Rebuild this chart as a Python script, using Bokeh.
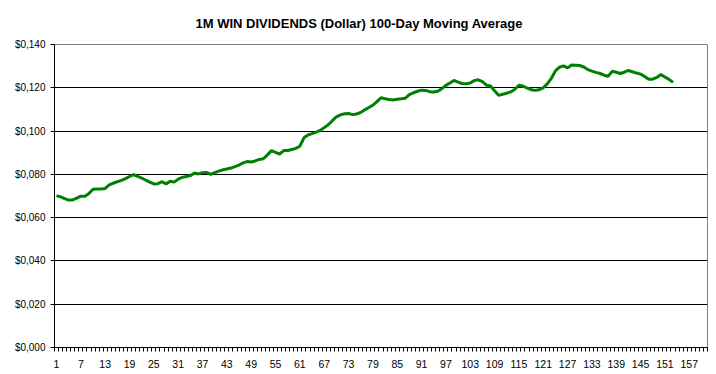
from bokeh.plotting import figure
from bokeh.models import FixedTicker, Range1d, ColumnDataSource
from bokeh.embed import file_html
from bokeh.resources import INLINE

title_text = "1M WIN DIVIDENDS (Dollar) 100-Day Moving Average"

days = list(range(1, 154))
moving_avg = [
    0.0702, 0.0696, 0.0688, 0.0681, 0.0682, 0.0690, 0.0699, 0.0699, 0.0712, 0.0731,
    0.0732, 0.0732, 0.0735, 0.0751, 0.0759, 0.0766, 0.0772, 0.0780, 0.0790, 0.0799,
    0.0791, 0.0783, 0.0773, 0.0764, 0.0756, 0.0757, 0.0766, 0.0756, 0.0768, 0.0764,
    0.0778, 0.0786, 0.0790, 0.0794, 0.0806, 0.0802, 0.0808, 0.0809, 0.0800, 0.0808,
    0.0815, 0.0821, 0.0825, 0.0829, 0.0836, 0.0843, 0.0853, 0.0859, 0.0857, 0.0862,
    0.0869, 0.0872, 0.0890, 0.0910, 0.0902, 0.0894, 0.0910, 0.0910, 0.0915, 0.0920,
    0.0930, 0.0969, 0.0982, 0.0988, 0.0995, 0.1003, 0.1016, 0.1029, 0.1048, 0.1066,
    0.1075, 0.1080, 0.1081, 0.1076, 0.1079, 0.1086, 0.1098, 0.1109, 0.1120, 0.1136,
    0.1154, 0.1149, 0.1146, 0.1144, 0.1147, 0.1149, 0.1152, 0.1168, 0.1177, 0.1184,
    0.1189, 0.1188, 0.1182, 0.1181, 0.1184, 0.1196, 0.1211, 0.1222, 0.1234, 0.1226,
    0.1220, 0.1219, 0.1222, 0.1233, 0.1237, 0.1228, 0.1212, 0.1208, 0.1186, 0.1165,
    0.1170, 0.1175, 0.1181, 0.1193, 0.1212, 0.1208, 0.1199, 0.1191, 0.1188, 0.1191,
    0.1200, 0.1218, 0.1244, 0.1278, 0.1295, 0.1301, 0.1292, 0.1305, 0.1304, 0.1303,
    0.1296, 0.1284, 0.1277, 0.1271, 0.1266, 0.1258, 0.1253, 0.1276, 0.1272, 0.1266,
    0.1272, 0.1280, 0.1274, 0.1268, 0.1263, 0.1252, 0.1239, 0.1240, 0.1248, 0.1261,
    0.1250, 0.1239, 0.1225,
]

n_categories = 161
x_tick_values = list(range(1, 158, 6))
x_tick_labels = [str(v) for v in x_tick_values]
y_tick_values = [0.0, 0.02, 0.04, 0.06, 0.08, 0.10, 0.12, 0.14]
y_tick_labels = ["$0,000", "$0,020", "$0,040", "$0,060", "$0,080", "$0,100", "$0,120", "$0,140"]

FONT = "Liberation Sans"

p = figure(
    width=716, height=374,
    output_backend="svg", toolbar_location=None,
    x_range=Range1d(0.5, n_categories + 0.5),
    y_range=Range1d(0.0, 0.14),
    min_border_left=54, min_border_right=9, min_border_top=44, min_border_bottom=27,
)

p.title.text = title_text
p.title.align = "left"
p.title.offset = 141
p.title.standoff = 27
p.title.text_font = FONT
p.title.text_font_size = "13px"
p.title.text_font_style = "bold"
p.title.text_color = "black"

p.background_fill_color = "white"
p.border_fill_color = "white"
p.outline_line_color = "#808080"
p.outline_line_width = 1

src = ColumnDataSource(dict(x=days, y=moving_avg))
p.line("x", "y", source=src, line_color="#008000", line_width=3)

# axes
p.xaxis.ticker = FixedTicker(ticks=x_tick_values,
                             minor_ticks=[i + 0.5 for i in range(0, n_categories + 1)])
p.xaxis.major_label_overrides = {v: s for v, s in zip(x_tick_values, x_tick_labels)}
p.xaxis.major_tick_out = 0
p.xaxis.major_tick_in = 0
p.xaxis.minor_tick_out = 4
p.xaxis.minor_tick_in = 0
p.xaxis.minor_tick_line_color = "black"
p.xaxis.axis_line_color = "black"
p.xaxis.major_label_standoff = 8
p.xaxis.major_label_text_font = FONT
p.xaxis.major_label_text_font_size = "10.5px"
p.xaxis.major_label_text_color = "black"

p.yaxis.ticker = FixedTicker(ticks=y_tick_values, minor_ticks=[])
p.yaxis.major_label_overrides = {v: s for v, s in zip(y_tick_values, y_tick_labels)}
p.yaxis.major_tick_out = 4
p.yaxis.major_tick_in = 0
p.yaxis.major_tick_line_color = "black"
p.yaxis.axis_line_color = "black"
p.yaxis.major_label_standoff = 5
p.yaxis.major_label_text_font = FONT
p.yaxis.major_label_text_font_size = "10px"
p.yaxis.major_label_text_color = "black"

p.xgrid.grid_line_color = None
p.ygrid.ticker = FixedTicker(ticks=y_tick_values)
p.ygrid.grid_line_color = "black"
p.ygrid.grid_line_width = 1

open("out.html", "w").write(file_html(p, INLINE))
